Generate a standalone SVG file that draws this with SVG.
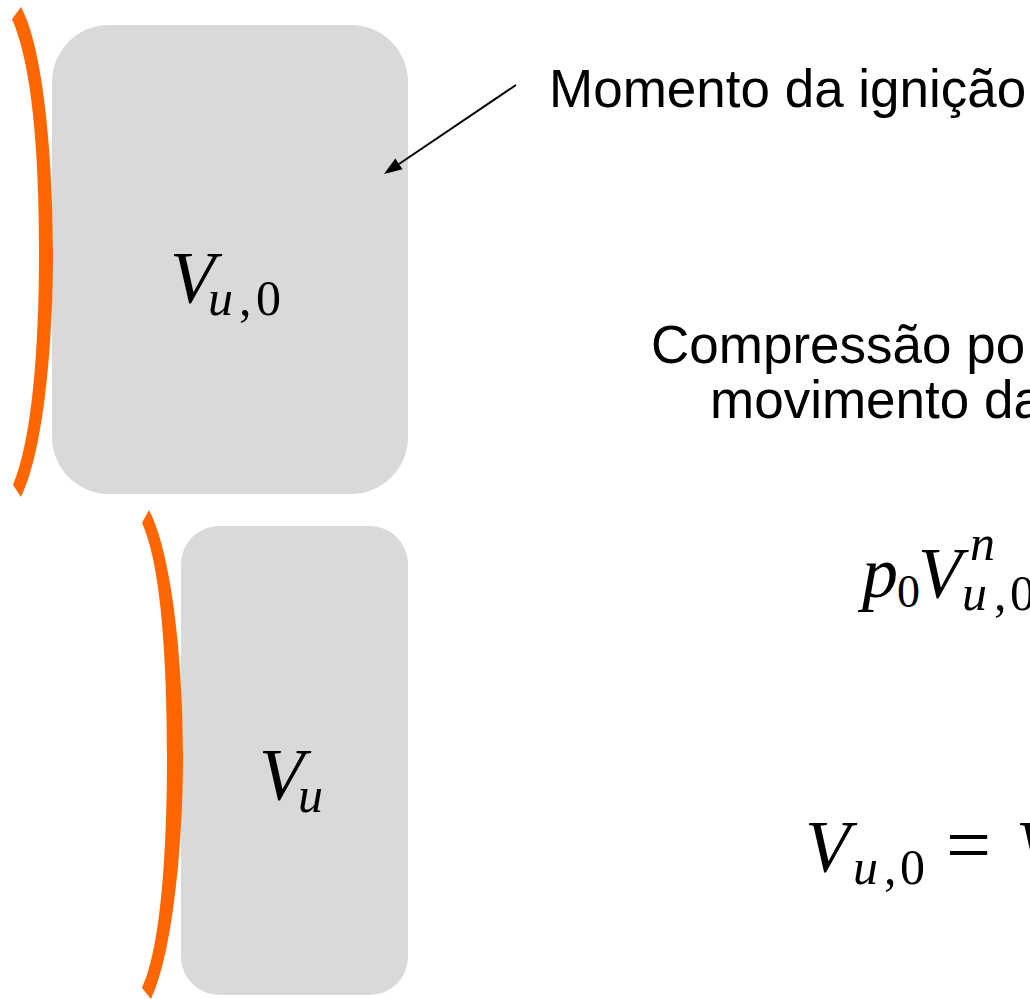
<svg xmlns="http://www.w3.org/2000/svg" width="1030" height="999" viewBox="0 0 1030 999">
<style>
.box{fill:#d9d9d9}
.brace{fill:#ff6600}
.lbl{font-family:"Liberation Sans",Arial,sans-serif;font-size:53px;fill:#000}
.math{font-family:"Liberation Serif","Times New Roman",serif;fill:#000}
.it{font-style:italic}
.sub{font-size:50px}
.big{font-size:74px}
</style>
<rect width="1030" height="999" fill="#fff"/>
<g id="vol0">
<rect class="box" x="52" y="25" width="356" height="469" rx="57" ry="57"/>
<path class="brace" d="M12,19 L21,7 C42,45 53,150 53,252 C53,355 42,455 21,497 L13,485 C32,440 39,350 39,252 C39,150 32,65 12,19 Z"/>
<text class="math" y="303"><tspan x="170" class="it big">V</tspan><tspan x="208" y="315" class="it sub">u</tspan><tspan x="239" y="315" class="sub">,</tspan><tspan x="256" y="315" class="sub">0</tspan></text>
</g>
<g id="vol">
<rect class="box" x="181" y="526" width="227" height="469" rx="38" ry="38"/>
<path class="brace" d="M142,523 L149,510 C170,550 183,650 183,755 C183,860 170,960 151,999 L142,988 C160,950 167,860 167,755 C167,650 160,562 142,523 Z"/>
<text class="math" y="800"><tspan x="259" class="it big">V</tspan><tspan x="298" y="812" class="it sub">u</tspan></text>
</g>
<g id="label-ignicao">
<text x="549" y="107" class="lbl">Momento da ignição</text>
</g>
<g id="label-compressao">
<text x="651" y="363" class="lbl">Compressão po</text>
<text x="710" y="418" class="lbl">movimento da</text>
</g>
<g id="eq1">
<text class="math" y="597"><tspan x="862" class="it" font-size="72">p</tspan><tspan x="897" y="607" font-size="46">0</tspan><tspan x="918" y="597" class="it" font-size="72">V</tspan><tspan x="970" y="560" class="it sub">n</tspan><tspan x="962" y="610" class="it sub">u</tspan><tspan x="994" y="610" class="sub">,</tspan><tspan x="1010" y="610" class="sub">0</tspan></text>
</g>
<g id="eq2">
<text class="math" y="872"><tspan x="805" class="it big">V</tspan><tspan x="853" y="884" class="it sub">u</tspan><tspan x="884" y="884" class="sub">,</tspan><tspan x="900" y="884" class="sub">0</tspan><tspan x="946" y="872" font-size="80">=</tspan><tspan x="1016" y="872" class="it big">V</tspan></text>
</g>
<g id="connectors">
<line x1="516" y1="85" x2="399" y2="164" stroke="#000" stroke-width="2"/>
<polygon points="384,174 402.5,169.3 395.3,158.5" fill="#000"/>
</g>
</svg>
